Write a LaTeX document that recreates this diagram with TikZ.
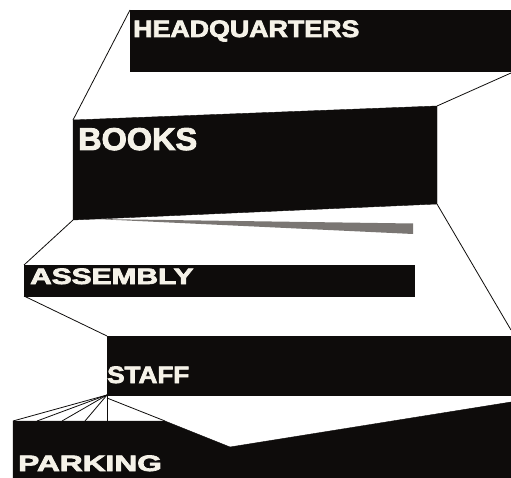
\documentclass[tikz,border=0pt]{standalone}
\usepackage{fontspec}
\setmainfont{Liberation Sans}
\newfontfamily\heavy{Liberation Sans}[BoldFeatures={FakeBold=3}]
\definecolor{ink}{HTML}{0E0C0B}
\definecolor{paper}{HTML}{F5F2E8}
\definecolor{band}{HTML}{7A7673}
\tikzset{
  blk/.style={fill=ink, draw=ink, line width=0.4pt},
  link/.style={draw=ink, line width=0.8pt},
  lbl/.style={anchor=base west, inner sep=0pt, text=paper}
}
\begin{document}
\begin{tikzpicture}[x=1pt, y=-1pt]
\useasboundingbox (0,0) rectangle (511,478);
% coordinates
\coordinate (hqTL) at (130,10);
\coordinate (hqBR) at (511,71);
\coordinate (hqR) at (511,73);
\coordinate (bkTL) at (73,120);
\coordinate (bkTR) at (437,106);
\coordinate (bkBR) at (437,204);
\coordinate (bkBL) at (73,220);
\coordinate (asTL) at (24,265);
\coordinate (asBL) at (24,296);
\coordinate (asBR) at (414,296);
\coordinate (stTL) at (107,336);
\coordinate (stBL) at (107,395);
\coordinate (stBR) at (511,395);
\coordinate (stR) at (511,330);
\coordinate (stB2) at (107,398);
\coordinate (pkTL) at (13,421);
\coordinate (pk1) at (37,421);
\coordinate (pk2) at (62,421);
\coordinate (pk3) at (85,421);
\coordinate (pk4) at (107,421);
\coordinate (pkT) at (165,421);
\coordinate (pkV) at (230,447);
\coordinate (pkR) at (511,402);
\coordinate (pkBR) at (511,478);
\coordinate (pkBL) at (13,478);

% connectors
\draw[link] (hqTL) -- (bkTL);
\draw[link] (hqR) -- (bkTR);
\draw[link] (bkBL) -- (asTL);
\draw[link] (bkBR) -- (stR);
\draw[link] (asBL) -- (stTL);
\draw[link] (stBL) -- (pkTL);
\draw[link] (stBL) -- (pk1);
\draw[link] (stBL) -- (pk2);
\draw[link] (stBL) -- (pk3);
\draw[link] (stBL) -- (pk4);
\draw[link] (stB2) -- (pkT);

% shapes
\fill[band] (95,219) -- (413,223.5) -- (413,234) -- cycle;
\path[blk] (hqTL) rectangle (hqBR);
\path[blk] (bkTL) -- (bkTR) -- (bkBR) -- (bkBL) -- cycle;
\path[blk] (asTL) rectangle (asBR);
\path[blk] (stTL) rectangle (stBR);
\path[blk] (pkTL) -- (pkT) -- (pkV) -- (pkR) -- (pkBR) -- (pkBL) -- cycle;

% labels
\node[lbl, font=\heavy\bfseries\fontsize{23.7}{24}\selectfont] (hq) at (133,37) {\scalebox{1.13}[1]{HEADQUARTERS}};
\node[lbl, font=\heavy\bfseries\fontsize{31.5}{32}\selectfont] (bk) at (78,150) {\scalebox{1.03}[1]{BOOKS}};
\node[lbl, font=\heavy\bfseries\fontsize{22.3}{23}\selectfont] (as) at (30,284) {\scalebox{1.34}[1]{ASSEMBLY}};
\node[lbl, font=\heavy\bfseries\fontsize{23.7}{24}\selectfont] (st) at (107,383) {\scalebox{1.1}[1]{STAFF}};
\node[lbl, font=\heavy\bfseries\fontsize{22.3}{23}\selectfont] (pk) at (18,471) {\scalebox{1.42}[1]{PARKING}};
\end{tikzpicture}
\end{document}
